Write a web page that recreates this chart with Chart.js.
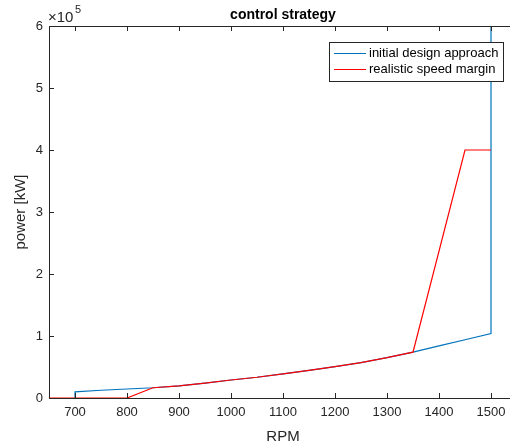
<!DOCTYPE html>
<html>
<head>
<meta charset="utf-8">
<script src="https://cdn.jsdelivr.net/npm/chart.js@4"></script>
<style>
  html, body { margin: 0; padding: 0; background: #fff; overflow: hidden; }
  #wrap { width: 520px; height: 446px; }
</style>
</head>
<body>
<div id="wrap"><canvas id="chart" width="520" height="446"></canvas></div>
<script>
const rpmTicks = [700, 800, 900, 1000, 1100, 1200, 1300, 1400, 1500];
const powerTicks = [0, 100000, 200000, 300000, 400000, 500000, 600000];

// initial design approach
const designRpm = [700, 700, 750, 800, 850, 900, 950, 1000, 1050, 1100, 1150, 1200, 1250, 1300, 1350, 1400, 1450, 1500, 1500];
const designPower = [0, 10000, 12500, 14500, 16500, 19500, 24000, 29000, 33500, 39000, 44500, 50500, 57000, 65000, 74000, 84000, 94000, 104000, 600000];

// realistic speed margin
const marginRpm = [650, 800, 850, 900, 950, 1000, 1050, 1100, 1150, 1200, 1250, 1300, 1350, 1450, 1500];
const marginPower = [0, 0, 16500, 19500, 24000, 29000, 33500, 39000, 44500, 50500, 57000, 65000, 74000, 400000, 400000];

const seriesNames = ["initial design approach", "realistic speed margin"];
const seriesColors = ["#0072BD", "#FF0000"];

const FONT = "'Liberation Sans', Arial, sans-serif";
const AXIS = "#262626";

const toPoints = (xs, ys) => xs.map((x, i) => ({ x, y: ys[i] }));

// matlab-like decorations: inward ticks, top box edge, legend, labels
const decorations = {
  id: "decorations",
  afterDraw(chart) {
    const { ctx, chartArea: a, scales } = chart;
    ctx.save();
    ctx.strokeStyle = AXIS;
    ctx.lineWidth = 1;

    ctx.beginPath();
    ctx.moveTo(a.left, a.top + 0.5);
    ctx.lineTo(a.right, a.top + 0.5);
    for (const t of rpmTicks) {
      const x = Math.round(scales.x.getPixelForValue(t)) + 0.5;
      ctx.moveTo(x, a.bottom);
      ctx.lineTo(x, a.bottom - 5);
      ctx.moveTo(x, a.top);
      ctx.lineTo(x, a.top + 5);
    }
    for (const t of powerTicks) {
      const y = Math.round(scales.y.getPixelForValue(t)) + 0.5;
      ctx.moveTo(a.left, y);
      ctx.lineTo(a.left + 5, y);
    }
    ctx.stroke();

    // legend
    const lx = 329, ly = 42, lw = 174, lh = 39;
    ctx.fillStyle = "#fff";
    ctx.fillRect(lx, ly, lw, lh);
    ctx.strokeStyle = AXIS;
    ctx.strokeRect(lx + 0.5, ly + 0.5, lw, lh);
    ctx.font = "13px " + FONT;
    ctx.textBaseline = "middle";
    seriesNames.forEach((name, i) => {
      const y = ly + 11.5 + i * 16;
      ctx.strokeStyle = seriesColors[i];
      ctx.beginPath();
      ctx.moveTo(lx + 5, y);
      ctx.lineTo(lx + 37, y);
      ctx.stroke();
      ctx.fillStyle = "#000";
      ctx.fillText(name, lx + 40, y);
    });

    // title and axis labels
    const cx = (a.left + a.right) / 2;
    ctx.fillStyle = "#000";
    ctx.textAlign = "center";
    ctx.textBaseline = "alphabetic";
    ctx.font = "bold 14px " + FONT;
    ctx.fillText("control strategy", cx, 19);

    ctx.fillStyle = AXIS;
    ctx.font = "15px " + FONT;
    ctx.fillText("RPM", cx, 441);

    ctx.save();
    ctx.translate(25, (a.top + a.bottom) / 2);
    ctx.rotate(-Math.PI / 2);
    ctx.fillText("power [kW]", 0, 0);
    ctx.restore();

    // exponent
    ctx.textAlign = "left";
    ctx.font = "15px " + FONT;
    ctx.fillText("\u00d710", 48, 22);
    ctx.font = "11px " + FONT;
    ctx.fillText("5", 75, 13);
    ctx.restore();
  },
};

new Chart(document.getElementById("chart"), {
  type: "line",
  data: {
    datasets: [
      {
        label: seriesNames[0],
        data: toPoints(designRpm, designPower),
        borderColor: seriesColors[0],
        borderWidth: 1.2,
        pointRadius: 0,
        tension: 0,
        order: 2,
      },
      {
        label: seriesNames[1],
        data: toPoints(marginRpm, marginPower),
        borderColor: seriesColors[1],
        borderWidth: 1.2,
        pointRadius: 0,
        tension: 0,
        order: 1,
      },
    ],
  },
  options: {
    responsive: false,
    animation: false,
    layout: { padding: { top: 26, right: 3, left: 0, bottom: 0 } },
    plugins: {
      legend: { display: false },
      tooltip: { enabled: false },
    },
    scales: {
      x: {
        type: "linear",
        min: 650,
        max: 1550,
        afterFit: (s) => { s.height = 48; },
        afterBuildTicks: (s) => { s.ticks = rpmTicks.map((v) => ({ value: v })); },
        grid: { display: false, drawTicks: false },
        border: { display: true, color: AXIS, width: 1 },
        ticks: {
          color: AXIS,
          padding: 7,
          font: { family: FONT, size: 13 },
          maxRotation: 0,
          callback: (v) => String(v),
        },
      },
      y: {
        min: 0,
        max: 600000,
        afterFit: (s) => { s.width = 49; },
        afterBuildTicks: (s) => { s.ticks = powerTicks.map((v) => ({ value: v })); },
        grid: { display: false, drawTicks: false },
        border: { display: true, color: AXIS, width: 1 },
        ticks: {
          color: AXIS,
          padding: 6,
          font: { family: FONT, size: 13 },
          callback: (v) => String(v / 100000),
        },
      },
    },
  },
  plugins: [decorations],
});
</script>
</body>
</html>
